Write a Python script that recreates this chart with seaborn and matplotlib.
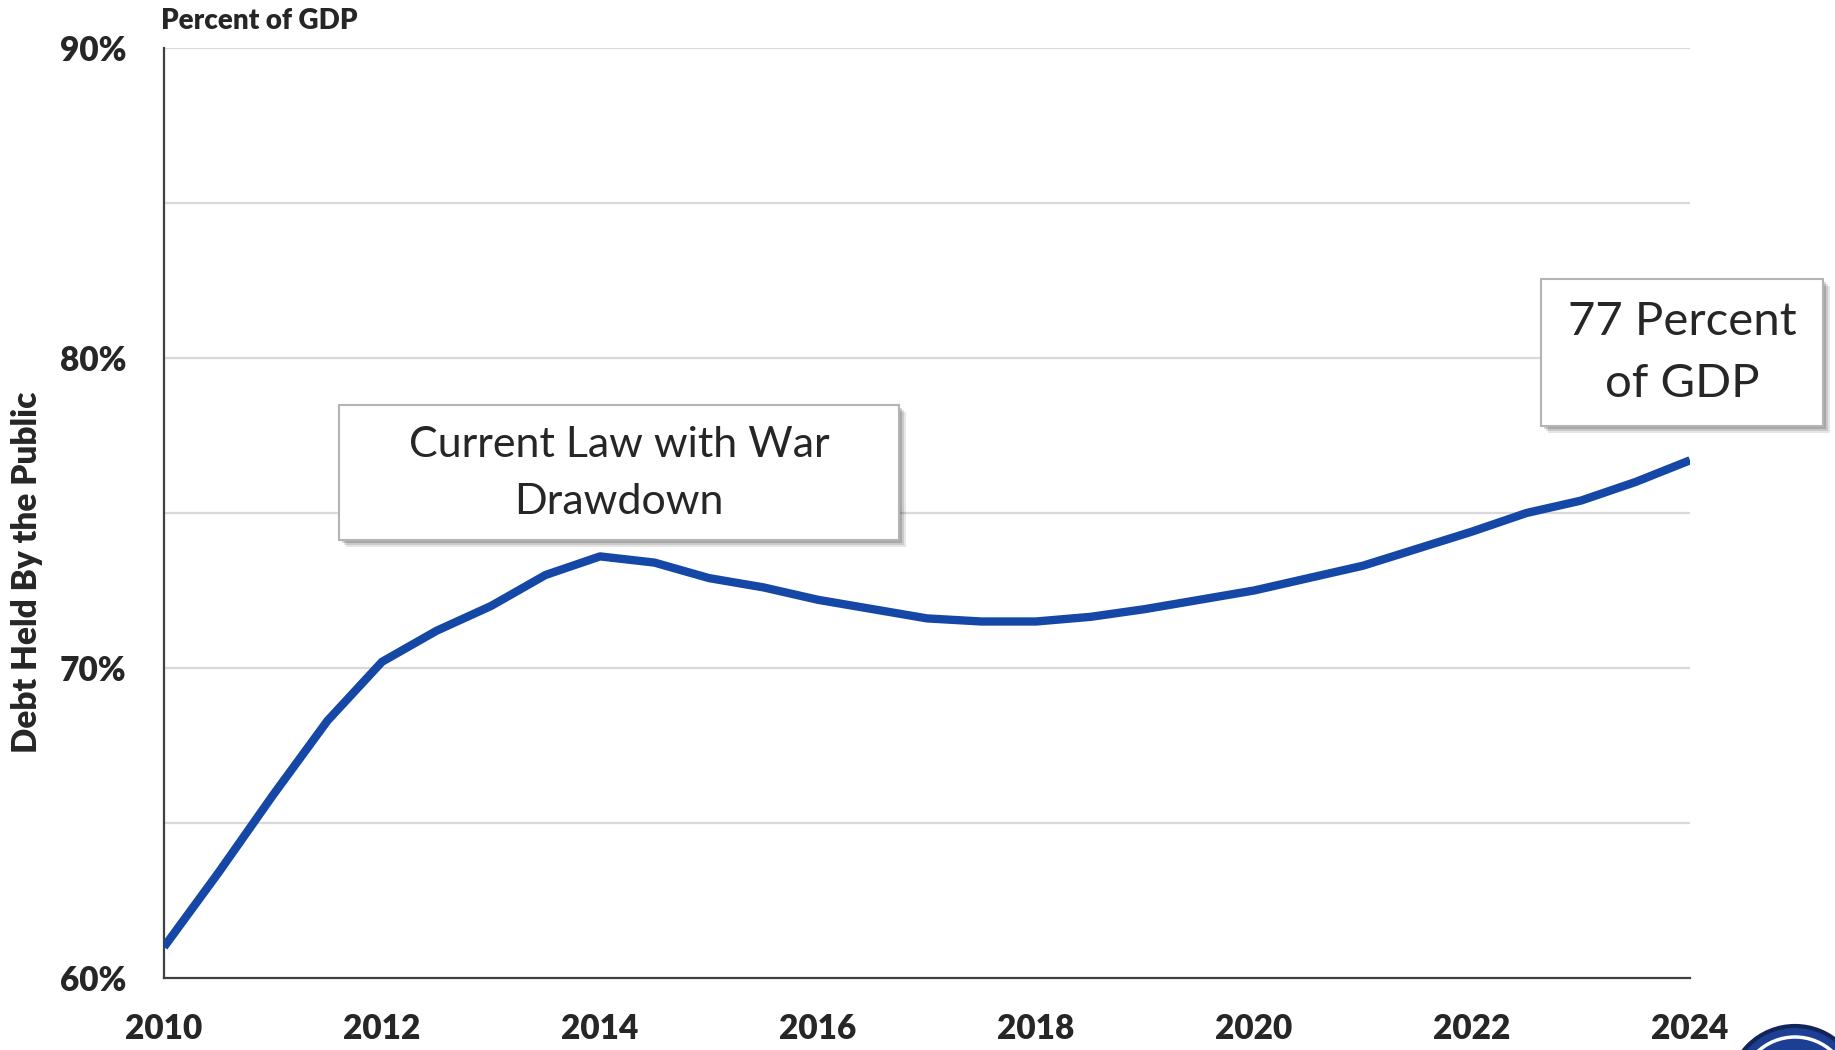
import numpy as np
import pandas as pd
import matplotlib
matplotlib.use("Agg")
import matplotlib.pyplot as plt
import seaborn as sns
from matplotlib.patches import Rectangle, Ellipse

# values (debt held by the public, % of GDP)
years = [2010, 2010.5, 2011, 2011.5, 2012, 2012.5, 2013, 2013.5, 2014, 2014.5,
         2015, 2015.5, 2016, 2016.5, 2017, 2017.5, 2018, 2018.5, 2019, 2019.5,
         2020, 2020.5, 2021, 2021.5, 2022, 2022.5, 2023, 2023.5, 2024]
debt_pct = [61.0, 63.4, 65.9, 68.3, 70.2, 71.2, 72.0, 73.0, 73.6, 73.4,
            72.9, 72.6, 72.2, 71.9, 71.6, 71.5, 71.5, 71.65, 71.9, 72.2,
            72.5, 72.9, 73.3, 73.85, 74.4, 75.0, 75.4, 76.0, 76.7]
x_ticks = [2010, 2012, 2014, 2016, 2018, 2020, 2022, 2024]
y_ticks = [60, 70, 80, 90]
y_grid = [65, 75, 85, 90]
box_left = ["Current Law with War", "Drawdown"]
box_right = ["77 Percent", "of GDP"]

df = pd.DataFrame({"year": years, "debt": debt_pct})

sns.set_theme(style="white")
plt.rcParams['font.family'] = ['Lato', 'DejaVu Sans']

W, H = 1835, 1050
fig = plt.figure(figsize=(W / 100, H / 100), dpi=100)
ax = fig.add_axes([164 / W, 1 - 978 / H, (1690 - 164) / W, (978 - 48) / H])

dark = "#262626"
grid_col = "#d9d9d9"

for g in y_grid + [70, 80]:
    ax.axhline(g, color=grid_col, lw=1.6, zorder=0)

sns.lineplot(data=df, x="year", y="debt", ax=ax, color="#1447a6", lw=6,
             solid_capstyle="butt", solid_joinstyle="round", zorder=3)

ax.set_xlim(2010, 2024)
ax.set_ylim(60, 90)
ax.set_xticks(x_ticks)
ax.set_xticklabels([str(v) for v in x_ticks])
ax.set_yticks(y_ticks)
ax.set_yticklabels([f"{v}%" for v in y_ticks])
ax.tick_params(axis="x", direction="in", length=9, width=1.5, color="#404040",
               pad=25, labelsize=24, labelcolor=dark)
ax.tick_params(axis="y", length=0, pad=27, labelsize=24, labelcolor=dark)
for lab in ax.get_xticklabels() + ax.get_yticklabels():
    lab.set_fontweight("heavy")

for side in ["top", "right"]:
    ax.spines[side].set_visible(False)
for side in ["left", "bottom"]:
    ax.spines[side].set_color("#404040")
    ax.spines[side].set_linewidth(1.6)
ax.set_xlabel("")
ax.set_ylabel("")
ax.set_facecolor("white")

fig.text(161 / W, 1 - 21 / H, "Percent of GDP", fontsize=20, fontweight="heavy",
         color=dark, ha="left", va="center")
fig.text(27 / W, 1 - 572 / H, "Debt Held By the Public", fontsize=24,
         fontweight="heavy", color=dark, rotation=90, ha="center", va="center")


def text_box(x0, y0, x1, y1, lines, size, line_ys):
    # drop shadow drawn as a few stacked translucent rectangles
    for k, a in enumerate([0.10, 0.12, 0.16]):
        off = 7 - 2 * k
        fig.patches.append(Rectangle(((x0 + off) / W, 1 - (y1 + off) / H),
                                     (x1 - x0) / W, (y1 - y0) / H,
                                     transform=fig.transFigure, facecolor="black",
                                     edgecolor="none", alpha=a, zorder=4))
    fig.patches.append(Rectangle((x0 / W, 1 - y1 / H), (x1 - x0) / W, (y1 - y0) / H,
                                 transform=fig.transFigure, facecolor="white",
                                 edgecolor="#b4b4b4", lw=1.5, zorder=5))
    cx = (x0 + x1) / 2
    for txt, ly in zip(lines, line_ys):
        fig.text(cx / W, 1 - ly / H, txt, fontsize=size, color=dark,
                 ha="center", va="center", zorder=6)


text_box(339, 405, 899, 540, box_left, 31, [445, 502])
text_box(1541, 279, 1823, 426, box_right, 34, [322, 384])

# partial seal in the lower right corner
cx, cy = 1795, 1092
for r, fc, ec, lw in [(66, "#1c3f94", "#12245a", 3), (55, "none", "white", 2.5)]:
    fig.patches.append(Ellipse((cx / W, 1 - cy / H), 2 * r / W, 2 * r / H,
                               transform=fig.transFigure, facecolor=fc,
                               edgecolor=ec, lw=lw, zorder=2))

fig.savefig("out.png", dpi=100, facecolor="white")
